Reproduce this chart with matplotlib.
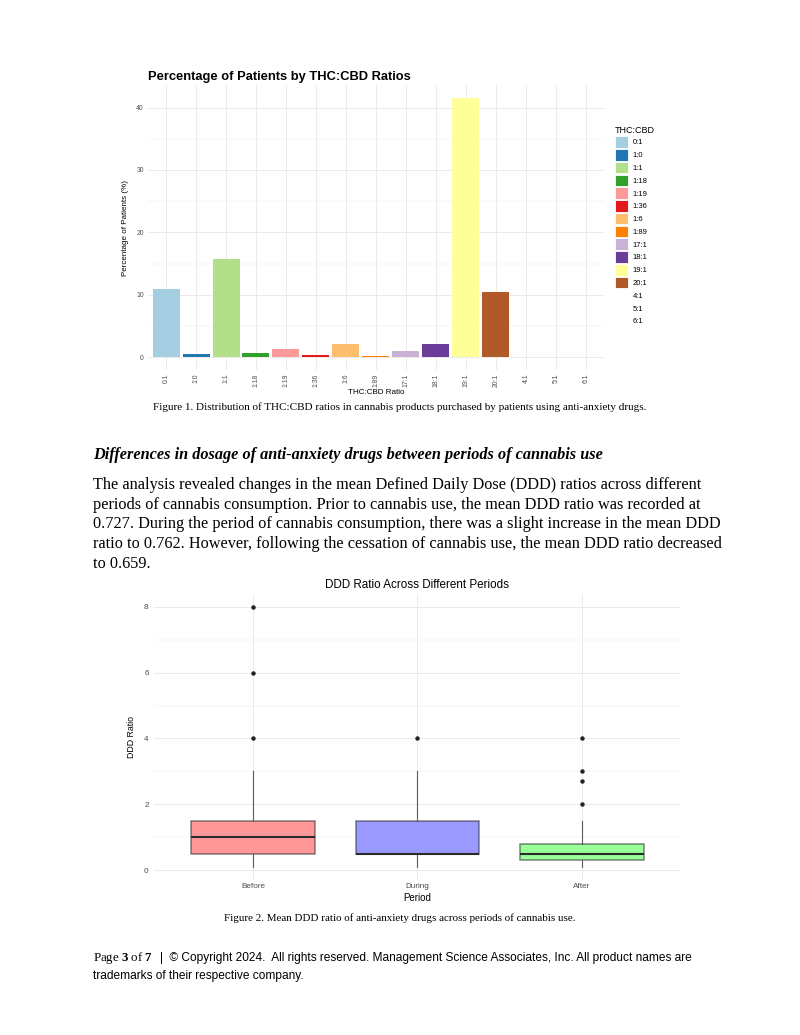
import matplotlib.pyplot as plt
from matplotlib.patches import Patch
from matplotlib.ticker import MultipleLocator

# bar chart data
ratios = ["0:1", "1:0", "1:1", "1:18", "1:19", "1:36", "1:6", "1:89",
          "17:1", "18:1", "19:1", "20:1", "4:1", "5:1", "6:1"]
pct_patients = [10.9, 0.5, 15.7, 0.75, 1.4, 0.4, 2.1, 0.25,
                1.05, 2.1, 41.5, 10.4, 0, 0, 0]
paired = ["#A6CEE3", "#1F78B4", "#B2DF8A", "#33A02C", "#FB9A99", "#E31A1C",
          "#FDBF6F", "#FF7F00", "#CAB2D6", "#6A3D9A", "#FFFF99", "#B15928"]

# box plot data
periods = ["Before", "During", "After"]
q1 = [0.5, 0.5, 0.3]
medians = [1.0, 0.5, 0.5]
q3 = [1.5, 1.5, 0.8]
whisk_lo = [0.1, 0.1, 0.1]
whisk_hi = [3.0, 3.0, 1.5]
outliers = [[4, 6, 8], [4], [2, 2.7, 3, 4]]
box_fill = ["#FF9999", "#9999FF", "#99FF99"]

body = ["The analysis revealed changes in the mean Defined Daily Dose (DDD) ratios across different",
        "periods of cannabis consumption. Prior to cannabis use, the mean DDD ratio was recorded at",
        "0.727. During the period of cannabis consumption, there was a slight increase in the mean DDD",
        "ratio to 0.762. However, following the cessation of cannabis use, the mean DDD ratio decreased",
        "to 0.659."]

plt.rcParams['font.family'] = ['Liberation Sans', 'DejaVu Sans']
plt.rcParams['mathtext.fontset'] = 'custom'
plt.rcParams['mathtext.rm'] = 'Liberation Serif'
plt.rcParams['mathtext.bf'] = 'Liberation Serif:bold'

W, H = 800, 1035
fig = plt.figure(figsize=(W / 100, H / 100), dpi=100)


def fx(x):
    return x / W


def fy(y):
    return 1 - y / H


grid_col = "#EBEBEB"
tick_col = "#4D4D4D"

# ---- Figure 1: bars ----
ax1 = fig.add_axes([fx(148), fy(370.3), 456 / W, (370.3 - 85.2) / H])
xs = list(range(len(ratios)))
bar_cols = paired + ["none"] * (len(ratios) - len(paired))
ax1.bar(xs, pct_patients, width=0.9, color=bar_cols, zorder=2)
ax1.set_xlim(-0.6, len(ratios) - 0.4)
ymax = max(pct_patients)
ax1.set_ylim(-0.05 * ymax, 1.05 * ymax)
ax1.yaxis.set_major_locator(MultipleLocator(10))
ax1.yaxis.set_minor_locator(MultipleLocator(5))
ax1.set_xticks(xs)
ax1.set_xticklabels(ratios, rotation=90, va="top", ha="center")
ax1.tick_params(axis="both", which="both", length=0, labelsize=4.9, labelcolor=tick_col)
ax1.tick_params(axis="x", pad=2.5)
ax1.tick_params(axis="y", pad=3)
ax1.grid(which="major", color=grid_col, lw=0.7)
ax1.grid(which="minor", axis="y", color=grid_col, lw=0.35)
ax1.set_axisbelow(True)
for s in ax1.spines.values():
    s.set_visible(False)
ax1.set_title("Percentage of Patients by THC:CBD Ratios", loc="left",
              fontsize=9.3, fontweight="bold", pad=4)
ax1.set_xlabel("THC:CBD Ratio", fontsize=5.8, labelpad=1)
ax1.set_ylabel("Percentage of Patients (%)", fontsize=5.8)
ax1.yaxis.set_label_coords((129 - 148) / 456, 0.5)

handles = [Patch(facecolor=c, edgecolor="white", lw=0.6) for c in paired]
handles += [Patch(facecolor="none", edgecolor="none")] * (len(ratios) - len(paired))
fig.legend(handles, ratios, title="THC:CBD", loc="upper left",
           bbox_to_anchor=(fx(615), fy(126)), frameon=False, fontsize=5.5,
           title_fontsize=6.5, handlelength=1.7, handleheight=1.95,
           labelspacing=0.16, handletextpad=0.6, borderpad=0,
           borderaxespad=0, alignment="left")

fig.text(0.5, fy(410.5), "Figure 1. Distribution of THC:CBD ratios in cannabis products "
         "purchased by patients using anti-anxiety drugs.",
         family="Liberation Serif", fontsize=8.0, ha="center", va="baseline")

# ---- text block ----
fig.text(fx(93), fy(459), "Differences in dosage of anti-anxiety drugs between periods of cannabis use",
         family="Liberation Serif", fontsize=11.7, fontweight="bold", style="italic",
         va="baseline")
for i, line in enumerate(body):
    fig.text(fx(93), fy(489.3 + i * 19.6), line, family="Liberation Serif",
             fontsize=11.7, va="baseline")

# ---- Figure 2: boxes ----
ax2 = fig.add_axes([fx(154.3), fy(879.7), 526.4 / W, (879.7 - 594) / H])
stats = []
for i, p in enumerate(periods):
    stats.append(dict(label=p, q1=q1[i], med=medians[i], q3=q3[i],
                      whislo=whisk_lo[i], whishi=whisk_hi[i], fliers=outliers[i]))
bp = ax2.bxp(stats, positions=[0, 1, 2], widths=0.75, patch_artist=True,
             showcaps=False,
             medianprops=dict(color="#2a2a2a", lw=1.5),
             whiskerprops=dict(color="#5a5a5a", lw=0.8),
             flierprops=dict(marker="o", markerfacecolor="#222222",
                             markeredgecolor="none", markersize=3.2))
for patch, c in zip(bp["boxes"], box_fill):
    patch.set_facecolor(c)
    patch.set_edgecolor((0.2, 0.2, 0.2, 0.6))
    patch.set_linewidth(1.1)
lo = min(whisk_lo)
hi = max(max(o) for o in outliers)
ax2.set_xlim(-0.6, len(periods) - 0.4)
ax2.set_ylim(lo - 0.05 * (hi - lo), hi + 0.05 * (hi - lo))
ax2.yaxis.set_major_locator(MultipleLocator(2))
ax2.yaxis.set_minor_locator(MultipleLocator(1))
ax2.tick_params(axis="both", which="both", length=0, labelsize=5.9, labelcolor=tick_col)
ax2.tick_params(axis="x", pad=2.5)
ax2.tick_params(axis="y", pad=4)
ax2.grid(which="major", color=grid_col, lw=0.7)
ax2.grid(which="minor", axis="y", color=grid_col, lw=0.35)
ax2.set_axisbelow(True)
for s in ax2.spines.values():
    s.set_visible(False)
ax2.set_title("DDD Ratio Across Different Periods", fontsize=8.4, pad=4)
ax2.set_xlabel("Period", fontsize=7, labelpad=2)
ax2.set_ylabel("DDD Ratio", fontsize=6.3)
ax2.yaxis.set_label_coords((136 - 154.3) / 526.4, 0.5)

fig.text(0.5, fy(921), "Figure 2. Mean DDD ratio of anti-anxiety drugs across periods of cannabis use.",
         family="Liberation Serif", fontsize=7.9, ha="center", va="baseline")

# ---- footer ----
fig.text(fx(93), fy(961), r"Page $\mathbf{3}$ of $\mathbf{7}$", family="Liberation Serif",
         fontsize=9.3, va="baseline")
fig.text(fx(160), fy(961), "|  \u00a9 Copyright 2024.  All rights reserved. Management Science "
         "Associates, Inc. All product names are", fontsize=8.55, va="baseline")
fig.text(fx(93), fy(979.5), "trademarks of their respective company.", fontsize=8.6, va="baseline")

fig.savefig("out.png", dpi=100)
